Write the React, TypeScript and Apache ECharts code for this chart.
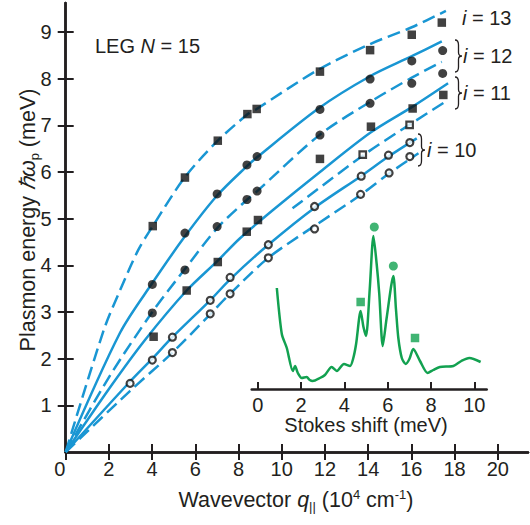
import React, { useEffect, useRef } from 'react';
import * as echarts from 'echarts';

// ---- main panel: theory curves (wavevector, energy) ----
const curveA = [[0, 0], [1.76, 2.61], [2.52, 3.47], [3.36, 4.33], [4.03, 4.84], [5.52, 5.89], [7.04, 6.67], [8.43, 7.24], [8.84, 7.35], [11.69, 8.19], [14.09, 8.74], [16.02, 9.1], [17.6, 9.45]];
const curveB = [[0, 0], [2.51, 2.55], [4.01, 3.62], [5.52, 4.62], [7.02, 5.5], [8.38, 6.12], [8.87, 6.32], [11.7, 7.36], [14.09, 8.05], [16.02, 8.48], [17.41, 8.8]];
const curveC = [[0, 0], [2.0, 1.6], [4.01, 3.0], [5.52, 3.92], [7.02, 4.8], [8.38, 5.4], [8.84, 5.58], [11.77, 6.8], [14.09, 7.5], [16.02, 8.02], [17.41, 8.36]];
const curveD = [[0, 0], [2.0, 1.35], [3.67, 2.4], [5.6, 3.46], [7.04, 4.1], [8.07, 4.58], [9.61, 5.19], [11.77, 6.0], [14.13, 6.85], [16.06, 7.4], [17.7, 7.9]];
const curveE = [[10.5, 5.22], [13.78, 6.36], [15.94, 7.02], [17.7, 7.54]];
const curveF = [[0, 0], [2.96, 1.5], [4.01, 2.0], [4.94, 2.46], [6.71, 3.26], [7.61, 3.7], [9.38, 4.44], [11.54, 5.24], [13.7, 5.92], [14.94, 6.33], [16.25, 6.72]];
const curveG = [[0, 0], [2.96, 1.3], [4.94, 2.13], [6.71, 2.96], [7.61, 3.39], [9.38, 4.16], [11.54, 4.85], [13.63, 5.5], [14.98, 5.97], [16.33, 6.4]];

// ---- main panel: measured points ----
const filledSquares = [
  [4.03, 4.84], [5.52, 5.88], [7.04, 6.67], [8.41, 7.24], [8.84, 7.35], [11.77, 8.15], [14.09, 8.61], [16.02, 8.94], [17.41, 9.2],
  [4.07, 2.47], [5.6, 3.46], [7.04, 4.07], [8.38, 4.72], [8.9, 4.97], [11.77, 6.28], [14.13, 6.97], [16.06, 7.36], [17.48, 7.65],
];
const filledCircles = [
  [4.01, 3.59], [5.52, 4.69], [7.01, 5.53], [8.39, 6.15], [8.86, 6.33], [11.77, 7.34], [14.09, 7.99], [16.02, 8.38], [17.45, 8.6],
  [4.01, 2.98], [5.52, 3.9], [7.01, 4.83], [8.39, 5.41], [8.86, 5.59], [11.77, 6.79], [14.09, 7.47], [16.02, 7.9], [17.45, 8.11],
];
const openSquares = [[13.75, 6.37], [15.92, 7.01]];
const openCircles = [
  [2.98, 1.47], [4.01, 1.97], [4.94, 2.46], [6.69, 3.25], [7.61, 3.74], [9.38, 4.44], [11.52, 5.26], [13.68, 5.91], [14.94, 6.36], [15.93, 6.63],
  [4.94, 2.13], [6.69, 2.96], [7.61, 3.39], [9.38, 4.16], [11.52, 4.78], [13.65, 5.52], [14.97, 5.98], [15.93, 6.33],
];

// ---- inset: Raman spectrum (Stokes shift meV, intensity a.u.) ----
const spectrum = [
  [0.88, 101], [1.11, 55], [1.34, 41], [1.62, 18], [1.72, 23], [1.85, 16], [2.03, 11], [2.26, 12], [2.4, 9], [2.54, 8],
  [2.87, 11], [3.1, 14], [3.41, 22], [3.65, 18], [3.98, 25], [4.26, 23], [4.4, 30], [4.54, 45], [4.75, 78], [4.88, 62],
  [5.0, 53], [5.17, 100], [5.34, 153], [5.49, 125], [5.61, 95], [5.77, 43], [5.95, 71], [6.26, 113], [6.38, 80], [6.49, 51],
  [6.65, 31], [6.83, 25], [7.0, 30], [7.18, 40], [7.49, 28], [7.84, 16], [8.1, 19], [8.41, 22], [9.03, 23], [9.4, 28],
  [9.77, 31], [10.29, 27],
];
const insetSquares = [[4.75, 87], [7.26, 51]];
const insetCircles = [[5.38, 162], [6.26, 123]];

const xTicks = [0, 2, 4, 6, 8, 10, 12, 14, 16, 18, 20];
const yTicks = [1, 2, 3, 4, 5, 6, 7, 8, 9];
const insetTicks = [0, 2, 4, 6, 8, 10];

const BLUE = '#1996d3';
const GREEN = '#12a150';
const INK = '#231f20';
const FONT = '"Liberation Sans", Arial, Helvetica, sans-serif';

const braceD = 'M0,0 C3,0 3.5,2 3.5,5 L3.5,12.5 C3.5,15 4.5,16 7,16 C4.5,16 3.5,17 3.5,19.5 L3.5,27 C3.5,30 3,32 0,32';

export default function App() {
  const ref = useRef<HTMLDivElement>(null);
  useEffect(() => {
    echarts.graphic.registerShape('brace', echarts.graphic.extendPath(braceD, {}));
    const chart = echarts.init(ref.current!, null, { renderer: 'svg' });
    const axisLine = { show: true, lineStyle: { color: INK, width: 2.5 } };
    const tick = { show: true, inside: true, length: 8, lineStyle: { color: INK, width: 2 } };
    const label = { color: INK, fontSize: 20, fontFamily: FONT };
    const solid = (d: number[][]) => ({
      type: 'line', data: d, xAxisIndex: 0, yAxisIndex: 0, symbol: 'none', smooth: 0.3,
      lineStyle: { color: BLUE, width: 2.5, type: 'solid' }, silent: true, z: 2,
    });
    const dashed = (d: number[][]) => ({
      type: 'line', data: d, xAxisIndex: 0, yAxisIndex: 0, symbol: 'none', smooth: 0.3,
      lineStyle: { color: BLUE, width: 2.5, type: [13, 6] }, silent: true, z: 2,
    });
    const txt = (x: number, y: number, text: string, rich: any, extra: any = {}) => ({
      type: 'text', x, y, silent: true,
      style: { text, rich, fill: INK, fontFamily: FONT, fontSize: 20, align: 'left', verticalAlign: 'middle', ...extra },
    });
    const mkRich = (fs: number) => ({
      r: { fontSize: fs, fontFamily: FONT, color: INK },
      i: { fontSize: fs, fontFamily: FONT, color: INK, fontStyle: 'italic' },
      sub: { fontSize: Math.round(fs * 0.62), fontFamily: FONT, color: INK, padding: [12, 0, 0, 0] },
      sup: { fontSize: Math.round(fs * 0.62), fontFamily: FONT, color: INK, padding: [0, 0, 11, 0] },
    });
    const rich20 = mkRich(20);
    const rich21 = mkRich(21.5);
    const brace = (x: number, y: number) => ({
      type: 'brace', x, y, silent: true,
      style: { fill: 'none', stroke: INK, lineWidth: 1.3 },
    });

    chart.setOption({
      animation: false,
      grid: [
        { left: 65.7, top: 3, right: 2, bottom: 73 },
        { left: 251.7, width: 235, top: 209, bottom: 136 },
      ],
      xAxis: [
        { type: 'value', gridIndex: 0, position: 'bottom', min: 0, max: 21.4,
          axisLine, axisTick: { ...tick, customValues: xTicks }, splitLine: { show: false },
          axisLabel: { ...label, margin: 7, customValues: xTicks,
            formatter: (v: number) => (v === 0 ? '{z|0}' : String(v)),
            rich: { z: { fontSize: 20, fontFamily: FONT, color: INK, padding: [0, 12, 0, 0] } } } },
        { type: 'value', gridIndex: 0, position: 'top', min: 0, max: 21.4,
          axisLine, axisTick: { ...tick, customValues: xTicks }, splitLine: { show: false }, axisLabel: { show: false } },
        { type: 'value', gridIndex: 1, position: 'bottom', min: -0.28, max: 10.57,
          axisLine, axisTick: { ...tick, length: 7, customValues: insetTicks }, splitLine: { show: false },
          axisLabel: { ...label, margin: 6, customValues: insetTicks } },
      ],
      yAxis: [
        { type: 'value', gridIndex: 0, position: 'left', min: 0, max: 9.62,
          axisLine, axisTick: { ...tick, customValues: yTicks }, splitLine: { show: false },
          axisLabel: { ...label, margin: 14, customValues: yTicks } },
        { type: 'value', gridIndex: 0, position: 'right', min: 0, max: 9.62,
          axisLine, axisTick: { ...tick, customValues: yTicks }, splitLine: { show: false }, axisLabel: { show: false } },
        { type: 'value', gridIndex: 1, min: 0, max: 180, show: false },
      ],
      series: [
        dashed(curveA), solid(curveB), dashed(curveC), solid(curveD), dashed(curveE), solid(curveF), dashed(curveG),
        { type: 'scatter', data: filledSquares, xAxisIndex: 0, yAxisIndex: 0, symbol: 'rect', symbolSize: 8.5,
          itemStyle: { color: '#111' }, silent: true, z: 3 },
        { type: 'scatter', data: filledCircles, xAxisIndex: 0, yAxisIndex: 0, symbol: 'circle', symbolSize: 9,
          itemStyle: { color: '#111' }, silent: true, z: 3 },
        { type: 'scatter', data: openSquares, xAxisIndex: 0, yAxisIndex: 0, symbol: 'rect', symbolSize: 6.5,
          itemStyle: { color: '#fff', borderColor: '#111', borderWidth: 2.2 }, silent: true, z: 3 },
        { type: 'scatter', data: openCircles, xAxisIndex: 0, yAxisIndex: 0, symbol: 'circle', symbolSize: 7,
          itemStyle: { color: '#fff', borderColor: '#111', borderWidth: 2.2 }, silent: true, z: 3 },
        { type: 'line', data: spectrum, xAxisIndex: 2, yAxisIndex: 2, symbol: 'none', smooth: 0.25,
          lineStyle: { color: GREEN, width: 2.5 }, silent: true, z: 2 },
        { type: 'scatter', data: insetSquares, xAxisIndex: 2, yAxisIndex: 2, symbol: 'rect', symbolSize: 8.5,
          itemStyle: { color: GREEN }, silent: true, z: 3 },
        { type: 'scatter', data: insetCircles, xAxisIndex: 2, yAxisIndex: 2, symbol: 'circle', symbolSize: 9,
          itemStyle: { color: GREEN }, silent: true, z: 3 },
      ],
      graphic: [
        txt(95, 46, '{r|LEG }{i|N}{r| = 15}', rich20),
        txt(462, 18, '{i|i}{r| = 13}', rich20),
        brace(455, 40), txt(463, 56, '{i|i}{r| = 12}', rich20),
        brace(455, 77), txt(463, 93, '{i|i}{r| = 11}', rich20),
        brace(418, 134), txt(427, 150, '{i|i}{r| = 10}', rich20),
        txt(366, 425, 'Stokes shift (meV)', undefined, { align: 'center', fontSize: 20 }),
        txt(296, 500, '{r|Wavevector }{i|q}{sub|||}{r| (10}{sup|4}{r| cm}{sup|-1}{r|)}', rich21, { align: 'center' }),
        { ...txt(28, 220, '{r|Plasmon energy }{i|ℏω}{sub|p}{r| (meV)}', rich21, { align: 'center' }), rotation: Math.PI / 2 },
      ],
    });
    return () => chart.dispose();
  }, []);
  return <div ref={ref} style={{ position: 'absolute', left: 0, top: 0, width: 530, height: 525 }} />;
}
